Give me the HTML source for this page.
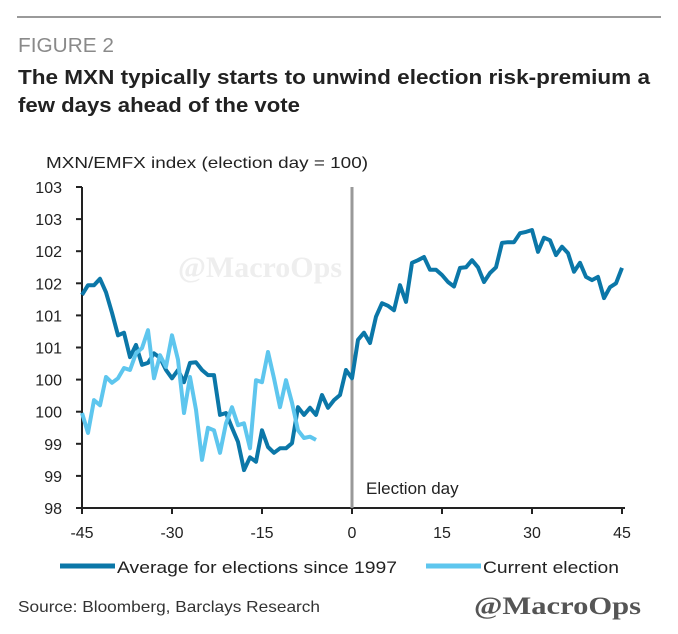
<!DOCTYPE html>
<html><head><meta charset="utf-8"><style>
html,body{margin:0;padding:0;background:#fff;}
svg{display:block;font-family:"Liberation Sans",sans-serif;}
</style></head><body>
<svg width="678" height="634" viewBox="0 0 678 634">
<line x1="17" y1="17" x2="661" y2="17" stroke="#9a9a9a" stroke-width="2"/>
<text x="18" y="52" font-size="20" fill="#8a8a8a" textLength="96" lengthAdjust="spacingAndGlyphs">FIGURE 2</text>
<text x="18" y="84" font-size="20" font-weight="bold" fill="#222" textLength="632" lengthAdjust="spacingAndGlyphs">The MXN typically starts to unwind election risk-premium a</text>
<text x="18" y="112" font-size="20" font-weight="bold" fill="#222" textLength="282" lengthAdjust="spacingAndGlyphs">few days ahead of the vote</text>
<text x="46" y="168" font-size="16" fill="#222" textLength="322" lengthAdjust="spacingAndGlyphs">MXN/EMFX index (election day = 100)</text>
<text x="178" y="277" font-size="30" font-family="Liberation Serif,serif" font-weight="bold" fill="#eeeeee">@MacroOps</text>
<g id="axes"></g>
<g id="series"></g>
<text x="366" y="494" font-size="17" fill="#222">Election day</text>
<g>
<line x1="60" y1="566" x2="115" y2="566" stroke="#0b77a8" stroke-width="5"/>
<text x="117" y="573" font-size="17" fill="#222" textLength="280" lengthAdjust="spacingAndGlyphs">Average for elections since 1997</text>
<line x1="426" y1="566" x2="481" y2="566" stroke="#5ec6ee" stroke-width="5"/>
<text x="483" y="573" font-size="17" fill="#222" textLength="136" lengthAdjust="spacingAndGlyphs">Current election</text>
</g>
<text x="18" y="612" font-size="16" fill="#333" textLength="302" lengthAdjust="spacingAndGlyphs">Source: Bloomberg, Barclays Research</text>
<text x="474" y="614" font-size="25" font-family="Liberation Serif,serif" font-weight="bold" fill="#555" textLength="167" lengthAdjust="spacingAndGlyphs">@MacroOps</text>
</svg>
<script>
const avgDays = [-45,-44,-43,-42,-41,-40,-39,-38,-37,-36,-35,-34,-33,-32,-31,-30,-29,-28,-27,-26,-25,-24,-23,-22,-21,-20,-19,-18,-17,-16,-15,-14,-13,-12,-11,-10,-9,-8,-7,-6,-5,-4,-3,-2,-1,0,1,2,3,4,5,6,7,8,9,10,11,12,13,14,15,16,17,18,19,20,21,22,23,24,25,26,27,28,29,30,31,32,33,34,35,36,37,38,39,40,41,42,43,44,45];
const avgValues = [101.32,101.47,101.47,101.57,101.36,101.04,100.69,100.73,100.35,100.54,100.23,100.26,100.41,100.34,100.15,100.02,100.15,99.96,100.26,100.27,100.15,100.07,100.07,99.45,99.48,99.25,99.03,98.59,98.79,98.72,99.21,98.95,98.86,98.93,98.93,99.01,99.57,99.45,99.56,99.45,99.76,99.56,99.68,99.76,100.15,100.02,100.62,100.73,100.57,100.98,101.19,101.15,101.08,101.47,101.21,101.82,101.86,101.91,101.71,101.71,101.63,101.52,101.45,101.74,101.75,101.86,101.75,101.52,101.66,101.75,102.13,102.14,102.14,102.28,102.30,102.33,101.99,102.21,102.17,101.94,102.07,101.97,101.68,101.82,101.60,101.55,101.60,101.27,101.44,101.50,101.74];
const curDays = [-45,-44,-43,-42,-41,-40,-39,-38,-37,-36,-35,-34,-33,-32,-31,-30,-29,-28,-27,-26,-25,-24,-23,-22,-21,-20,-19,-18,-17,-16,-15,-14,-13,-12,-11,-10,-9,-8,-7,-6];
const curValues = [99.48,99.17,99.68,99.60,100.04,99.95,100.02,100.18,100.15,100.41,100.49,100.77,100.02,100.38,100.20,100.69,100.31,99.48,100.04,99.53,98.75,99.25,99.21,98.86,99.32,99.57,99.29,99.32,98.93,99.99,99.96,100.43,100.02,99.57,99.99,99.64,99.21,99.09,99.11,99.06];
const yTickValues = [103,102.5,102,101.5,101,100.5,100,99.5,99,98.5,98];
const yTickLabels = ["103","103","102","102","101","101","100","100","99","99","98"];
const xTickValues = [-45,-30,-15,0,15,30,45];
const xTickLabels = ["-45","-30","-15","0","15","30","45"];

const NS = "http://www.w3.org/2000/svg";
const X0 = 82, X1 = 622, Y0 = 508, Y1 = 187;
function xs(d){ return X0 + (d + 45) / 90 * (X1 - X0); }
function ys(v){ return Y0 - (v - 98) / 5 * (Y0 - Y1); }
function mk(tag, attrs, parent){ const e = document.createElementNS(NS, tag); for (const k in attrs) e.setAttribute(k, attrs[k]); parent.appendChild(e); return e; }

const axes = document.getElementById('axes');
let e = mk('line', {x1: X0, y1: Y1, x2: X0, y2: Y0, stroke: '#222', 'stroke-width': 2}, axes);


e = mk('line', {x1: X0, y1: Y0, x2: X1 + 3, y2: Y0, stroke: '#222', 'stroke-width': 2}, axes);


e = mk('line', {x1: xs(0), y1: Y1, x2: xs(0), y2: Y0, stroke: '#999', 'stroke-width': 3}, axes);


yTickValues.forEach((v, i) => {
  const t = mk('line', {x1: X0 - 6, y1: ys(v), x2: X0, y2: ys(v), stroke: '#222', 'stroke-width': 2}, axes);
  
  
  const l = mk('text', {x: 62, y: ys(v) + 6, 'font-size': 16, 'text-anchor': 'end', fill: '#222'}, axes);
  l.textContent = yTickLabels[i];
  
  
});
xTickValues.forEach((d, i) => {
  const t = mk('line', {x1: xs(d), y1: Y0, x2: xs(d), y2: Y0 + 6, stroke: '#222', 'stroke-width': 2}, axes);
  
  
  const l = mk('text', {x: xs(d), y: Y0 + 30, 'font-size': 16, 'text-anchor': 'middle', fill: '#222'}, axes);
  l.textContent = xTickLabels[i];
  
  
});

const series = document.getElementById('series');
function pts(days, vals){ return days.map((d, i) => xs(d).toFixed(1) + ',' + ys(vals[i]).toFixed(1)).join(' '); }
const avgLine = mk('polyline', {points: pts(avgDays, avgValues), fill: 'none', stroke: '#0b77a8', 'stroke-width': 4, 'stroke-linejoin': 'round'}, series);


const curLine = mk('polyline', {points: pts(curDays, curValues), fill: 'none', stroke: '#5ec6ee', 'stroke-width': 4, 'stroke-linejoin': 'round'}, series);


</script>
</body></html>
